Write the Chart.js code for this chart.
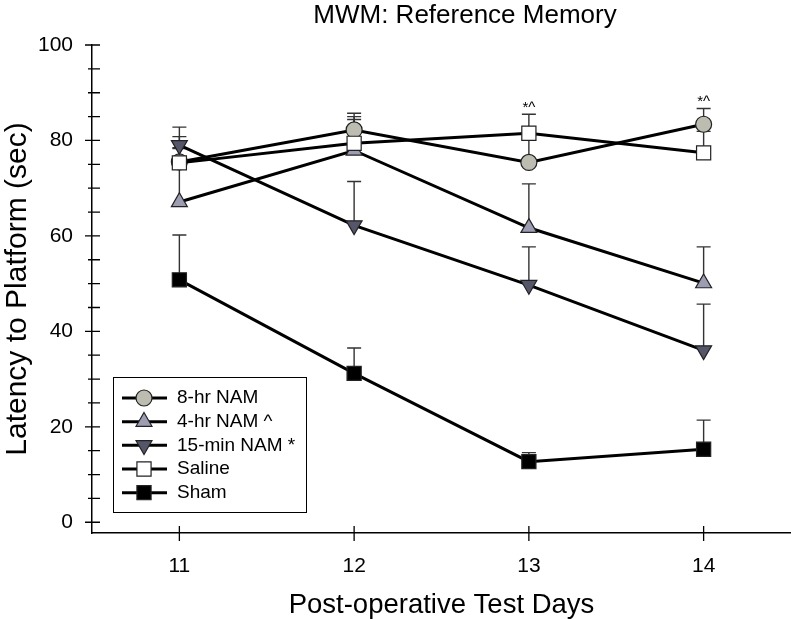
<!DOCTYPE html>
<html>
<head>
<meta charset="utf-8">
<script src="https://cdn.jsdelivr.net/npm/chart.js@4.4.0/dist/chart.umd.min.js"></script>
<style>
  html, body { margin: 0; padding: 0; background: #fff; overflow: hidden; }
</style>
</head>
<body>
<canvas id="mwmchart" width="791" height="619"></canvas>
<script>
// test days on the x axis
const days = [11, 12, 13, 14];

// mean latency (sec) and upper error (sec) per group
const nam8hr = [75.5, 82.2, 75.4, 83.4];
const nam8hrErr = [3.0, 3.5, 5.0, 3.3];
const nam4hr = [67.1, 77.9, 61.7, 50.1];
const nam4hrErr = [13.7, 6.5, 9.2, 7.6];
const nam15min = [79.0, 62.2, 49.7, 36.0];
const nam15minErr = [3.8, 9.2, 8.0, 9.7];
const saline = [75.3, 79.4, 81.5, 77.4];
const salineErr = [3.0, 5.6, 4.0, 4.5];
const sham = [50.8, 31.2, 12.7, 15.3];
const shamErr = [9.4, 5.3, 1.9, 6.1];

// significance marks above each day
const sigMarks = ['', '', '*^', '*^'];

const yTicks = [0, 20, 40, 60, 80, 100];
const yMinorStep = 5;

const FONT = "'Liberation Sans', Arial, sans-serif";
Chart.defaults.font.family = FONT;
Chart.defaults.color = '#000';

const pts = (vals) => days.map((d, i) => ({ x: d, y: vals[i] }));

function series(label, vals, errs, style, fill, rot, radius, order) {
  return {
    label: label,
    data: pts(vals),
    errUp: errs,
    borderColor: '#000',
    borderWidth: 3,
    tension: 0,
    pointStyle: style,
    pointRotation: rot,
    pointRadius: radius,
    pointHoverRadius: radius,
    pointBackgroundColor: fill,
    pointBorderColor: '#222',
    pointBorderWidth: 1.2,
    order: order
  };
}

const datasets = [
  series('8-hr NAM', nam8hr, nam8hrErr, 'circle', '#bcbdb0', 0, 8, 2),
  series('4-hr NAM ^', nam4hr, nam4hrErr, 'triangle', '#9c9cb2', 0, 9.2, 3),
  series('15-min NAM *', nam15min, nam15minErr, 'triangle', '#56566a', 180, 9.2, 1),
  series('Saline', saline, salineErr, 'rect', '#ffffff', 0, 10, 0),
  series('Sham', sham, shamErr, 'rect', '#000000', 0, 10, 4)
];

const errorBars = {
  id: 'errorBars',
  beforeDatasetsDraw(chart) {
    const { ctx, scales: { x, y } } = chart;
    ctx.save();
    ctx.strokeStyle = '#333';
    ctx.lineWidth = 1.4;
    chart.data.datasets.forEach((ds) => {
      ds.data.forEach((p, i) => {
        const px = x.getPixelForValue(p.x);
        const y0 = y.getPixelForValue(p.y);
        const y1 = y.getPixelForValue(p.y + ds.errUp[i]);
        ctx.beginPath();
        ctx.moveTo(px, y0);
        ctx.lineTo(px, y1);
        ctx.moveTo(px - 7, y1);
        ctx.lineTo(px + 7, y1);
        ctx.stroke();
      });
    });
    ctx.restore();
  }
};

const sigLabels = {
  id: 'sigLabels',
  afterDatasetsDraw(chart) {
    const { ctx, scales: { x, y } } = chart;
    ctx.save();
    ctx.font = '15px ' + FONT;
    ctx.fillStyle = '#000';
    ctx.textAlign = 'center';
    ctx.textBaseline = 'bottom';
    days.forEach((d, i) => {
      if (!sigMarks[i]) return;
      let top = 0;
      chart.data.datasets.forEach((ds) => {
        top = Math.max(top, ds.data[i].y + ds.errUp[i]);
      });
      ctx.fillText(sigMarks[i], x.getPixelForValue(d), y.getPixelForValue(top) + 1);
    });
    ctx.restore();
  }
};

const tickMarks = {
  id: 'tickMarks',
  afterDraw(chart) {
    const { ctx, chartArea, scales: { x, y } } = chart;
    ctx.save();
    ctx.strokeStyle = '#000';
    ctx.lineWidth = 1.3;
    ctx.beginPath();
    days.forEach((d) => {
      const px = x.getPixelForValue(d);
      ctx.moveTo(px, chartArea.bottom - 7);
      ctx.lineTo(px, chartArea.bottom + 8);
    });
    for (let v = 0; v <= 100; v += yMinorStep) {
      const py = y.getPixelForValue(v);
      const major = yTicks.includes(v);
      ctx.moveTo(chartArea.left - (major ? 7 : 4), py);
      ctx.lineTo(chartArea.left + 8, py);
    }
    ctx.stroke();
    ctx.restore();
  }
};

const legendBox = {
  id: 'legendBox',
  afterDraw(chart) {
    const { ctx } = chart;
    const bx = 113, by = 377, bw = 193, bh = 135;
    const rowY = [398, 421.7, 445.3, 469, 492.7];
    ctx.save();
    ctx.fillStyle = '#fff';
    ctx.fillRect(bx, by, bw, bh);
    ctx.strokeStyle = '#000';
    ctx.lineWidth = 1;
    ctx.strokeRect(bx + 0.5, by + 0.5, bw, bh);
    chart.data.datasets.forEach((ds, i) => {
      const ly = rowY[i];
      ctx.strokeStyle = '#000';
      ctx.lineWidth = 3;
      ctx.beginPath();
      ctx.moveTo(122, ly);
      ctx.lineTo(167, ly);
      ctx.stroke();
      ctx.fillStyle = ds.pointBackgroundColor;
      ctx.strokeStyle = ds.pointBorderColor;
      ctx.lineWidth = ds.pointBorderWidth;
      Chart.helpers.drawPoint(ctx, {
        pointStyle: ds.pointStyle,
        rotation: ds.pointRotation,
        radius: ds.pointRadius,
        borderWidth: ds.pointBorderWidth
      }, 144, ly);
      ctx.fillStyle = '#000';
      ctx.font = '19px ' + FONT;
      ctx.textAlign = 'left';
      ctx.textBaseline = 'middle';
      ctx.fillText(ds.label, 177, ly);
    });
    ctx.restore();
  }
};

const chartTitle = {
  id: 'chartTitle',
  afterDraw(chart) {
    const { ctx } = chart;
    ctx.save();
    ctx.font = '26px ' + FONT;
    ctx.fillStyle = '#000';
    ctx.textAlign = 'center';
    ctx.textBaseline = 'middle';
    ctx.fillText('MWM: Reference Memory', 465, 16);
    ctx.restore();
  }
};

new Chart(document.getElementById('mwmchart'), {
  type: 'line',
  data: { datasets: datasets },
  options: {
    responsive: false,
    animation: false,
    devicePixelRatio: 1,
    layout: { autoPadding: false, padding: { top: 45, left: 0, right: 0, bottom: 0 } },
    plugins: {
      legend: { display: false },
      tooltip: { enabled: false },
      title: { display: false }
    },
    scales: {
      x: {
        type: 'linear',
        min: 10.5,
        max: 14.5,
        afterBuildTicks: (scale) => { scale.ticks = days.map((d) => ({ value: d })); },
        afterFit: (scale) => { scale.height = 86; },
        grid: { display: false, drawTicks: false },
        border: { display: true, color: '#000', width: 1.5 },
        ticks: { font: { size: 21 }, padding: 21, color: '#000' },
        title: {
          display: true,
          text: 'Post-operative Test Days',
          font: { size: 27.5, lineHeight: 1 },
          padding: { top: 1, bottom: 0 }
        }
      },
      y: {
        min: -2.25,
        max: 100,
        afterBuildTicks: (scale) => { scale.ticks = yTicks.map((v) => ({ value: v })); },
        afterFit: (scale) => { scale.width = 92; },
        grid: { display: false, drawTicks: false },
        border: { display: true, color: '#000', width: 1.5 },
        ticks: { font: { size: 21 }, padding: 19, color: '#000' },
        title: {
          display: true,
          text: 'Latency to Platform (sec)',
          font: { size: 30, lineHeight: 1 },
          padding: { top: 3, bottom: 0 }
        }
      }
    }
  },
  plugins: [errorBars, sigLabels, tickMarks, legendBox, chartTitle]
});
</script>
</body>
</html>
